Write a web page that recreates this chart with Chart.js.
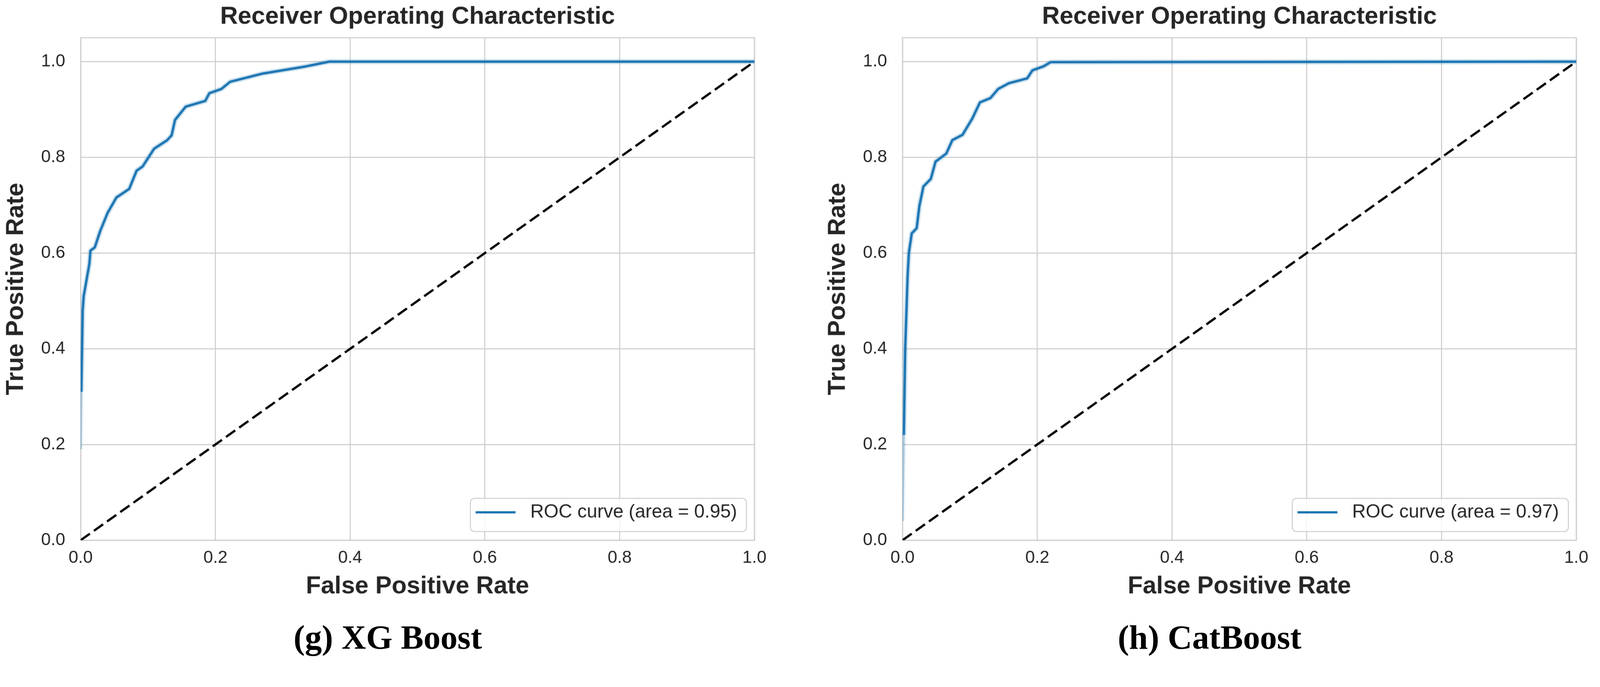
<!DOCTYPE html>
<html>
<head>
<meta charset="utf-8">
<script src="https://cdn.jsdelivr.net/npm/chart.js@4.4.1/dist/chart.umd.min.js"></script>
<style>
html,body{margin:0;padding:0;background:#fff;overflow:hidden;}
#page{position:relative;width:4246px;height:1758px;transform-origin:0 0;}
.panel{position:absolute;top:0;width:2065px;height:1620px;}
.caption{position:absolute;top:1646px;font-family:"Liberation Serif","Times New Roman",serif;font-weight:bold;font-size:90px;line-height:90px;white-space:nowrap;color:#000;transform:translateX(-50%);}
</style>
</head>
<body>
<div id="page">
<div class="panel" style="left:0px"><canvas id="rocXgb" width="2065" height="1620"></canvas></div>
<div class="panel" style="left:2181px"><canvas id="rocCat" width="2065" height="1620"></canvas></div>
<div class="caption" style="left:1029px">(g) XG Boost</div>
<div class="caption" style="left:3210px">(h) CatBoost</div>
</div>
<script>
const xgbFpr = [0, 0.001, 0.003, 0.0045, 0.013, 0.0145, 0.021, 0.029, 0.040, 0.053, 0.072, 0.083, 0.092, 0.109, 0.1285, 0.135, 0.140, 0.156, 0.185, 0.191, 0.209, 0.222, 0.270, 0.334, 0.369, 1.0];
const xgbTpr = [0.19, 0.31, 0.48, 0.51, 0.578, 0.605, 0.612, 0.646, 0.684, 0.716, 0.734, 0.772, 0.781, 0.818, 0.836, 0.846, 0.878, 0.906, 0.918, 0.934, 0.943, 0.958, 0.975, 0.990, 1.0, 1.0];
const xgbAuc = 0.95;

const catFpr = [0, 0.002, 0.004, 0.0075, 0.0094, 0.0137, 0.021, 0.025, 0.031, 0.042, 0.049, 0.065, 0.074, 0.089, 0.1035, 0.115, 0.1306, 0.142, 0.158, 0.185, 0.193, 0.209, 0.220, 1.0];
const catTpr = [0.04, 0.22, 0.40, 0.55, 0.600, 0.641, 0.652, 0.698, 0.739, 0.755, 0.791, 0.808, 0.836, 0.847, 0.881, 0.915, 0.924, 0.943, 0.955, 0.965, 0.982, 0.990, 0.999, 1.0];
const catAuc = 0.97;

const diagX = [0, 1];
const diagY = [0, 1];

const tickValues = [0, 0.2, 0.4, 0.6, 0.8, 1.0];
const tickLabels = ["0.0", "0.2", "0.4", "0.6", "0.8", "1.0"];

// keep the 4246x1758 layout in proportion inside the viewport
const page = document.getElementById("page");
const fit = window.innerWidth/4246;
page.style.transform = "scale("+fit+")";

Chart.defaults.font.family = "'Liberation Sans', Arial, sans-serif";
Chart.defaults.color = "#262626";

const blue = "#1f77b4";
const gridColor = "#cccccc";

function pts(xs, ys){
return xs.map((x,i)=>({x:x, y:ys[i]}));
}

// box around the plot area (top edge is not a grid line)
const frame = {
id:"frame",
beforeDatasetsDraw(chart){
const a = chart.chartArea, ctx = chart.ctx;
ctx.save();
ctx.strokeStyle = gridColor;
ctx.lineWidth = 2.7;
ctx.strokeRect(a.left, a.top, a.right-a.left, a.bottom-a.top);
ctx.restore();
}
};

// matplotlib style legend in lower right
const boxLegend = {
id:"boxLegend",
afterDatasetsDraw(chart){
const ds = chart.data.datasets[0];
const a = chart.chartArea, ctx = chart.ctx;
ctx.save();
ctx.font = "50px 'Liberation Sans', Arial, sans-serif";
const tw = ctx.measureText(ds.label).width;
const w = 14+106+39+tw+25, h = 88;
const x = a.right-21-w, y = a.bottom-23-h;
ctx.beginPath();
ctx.roundRect(x, y, w, h, 11);
ctx.fillStyle = "rgba(255,255,255,0.8)";
ctx.fill();
ctx.lineWidth = 2.5;
ctx.strokeStyle = gridColor;
ctx.stroke();
const cy = y+37;
ctx.beginPath();
ctx.moveTo(x+14, cy);
ctx.lineTo(x+120, cy);
ctx.lineWidth = 6;
ctx.strokeStyle = ds.borderColor;
ctx.stroke();
ctx.fillStyle = "#262626";
ctx.textBaseline = "middle";
ctx.textAlign = "left";
ctx.fillText(ds.label, x+159, cy);
ctx.restore();
}
};

function setTicks(scale){
scale.ticks = tickValues.map(v=>({value:v}));
}

function makeRoc(id, fpr, tpr, auc){
const curve = pts(fpr, tpr);
return new Chart(document.getElementById(id), {
type:"line",
data:{
datasets:[{
label:"ROC curve (area = "+auc.toFixed(2)+")",
data:curve,
borderColor:blue,
borderWidth:6.5,
borderJoinStyle:"round",
pointRadius:0,
tension:0,
segment:{borderColor:c=>c.p0DataIndex===0?"rgba(31,119,180,0.3)":undefined}
},{
label:"band",
data:curve,
borderColor:"rgba(31,119,180,0.2)",
borderWidth:14,
borderJoinStyle:"round",
pointRadius:0,
tension:0,
segment:{borderColor:c=>c.p0DataIndex===0?"rgba(31,119,180,0.06)":undefined}
},{
label:"chance",
data:pts(diagX, diagY),
borderColor:"#000000",
borderWidth:6,
borderDash:[30,13],
pointRadius:0,
tension:0
}]
},
options:{
responsive:false,
animation:false,
events:[],
layout:{padding:{top:6,left:0,right:63,bottom:0}},
plugins:{
legend:{display:false},
tooltip:{enabled:false},
title:{
display:true,
fullSize:false,
text:"Receiver Operating Characteristic",
color:"#262626",
font:{size:65,weight:"bold"},
padding:{top:0,bottom:16}
}
},
scales:{
x:{
type:"linear",
min:0,max:1,
afterBuildTicks:setTicks,
afterFit:s=>{s.height=187;},
grid:{color:gridColor,lineWidth:2.7,drawTicks:false},
border:{display:false},
ticks:{padding:20,color:"#262626",font:{size:46},maxRotation:0,autoSkip:false,callback:(v,i)=>tickLabels[i]},
title:{display:true,text:"False Positive Rate",color:"#262626",font:{size:65,weight:"bold"},padding:{top:0,bottom:25}}
},
y:{
type:"linear",
min:0,max:1.05,
afterBuildTicks:setTicks,
afterFit:s=>{s.width=214;},
grid:{color:gridColor,lineWidth:2.7,drawTicks:false},
border:{display:false},
ticks:{padding:41,color:"#262626",font:{size:46},autoSkip:false,callback:(v,i)=>tickLabels[i]},
title:{display:true,text:"True Positive Rate",color:"#262626",font:{size:65,weight:"bold"},padding:{top:4,bottom:0}}
}
}
},
plugins:[frame, boxLegend]
});
}

makeRoc("rocXgb", xgbFpr, xgbTpr, xgbAuc);
makeRoc("rocCat", catFpr, catTpr, catAuc);
</script>
</body>
</html>
